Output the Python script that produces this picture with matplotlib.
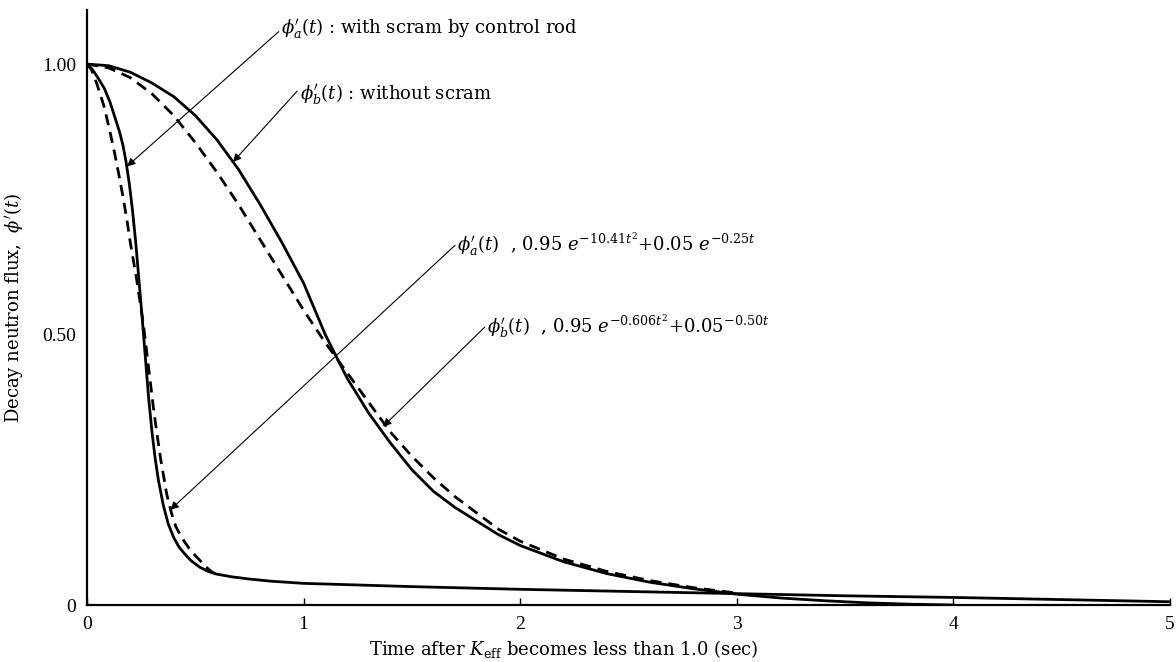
import matplotlib.pyplot as plt

plt.rcParams['font.family'] = 'serif'
plt.rcParams['font.serif'] = ['DejaVu Serif']
plt.rcParams['mathtext.fontset'] = 'dejavuserif'

# phi'_a(t) : with scram by control rod (solid, measured)
t_a = [0, 0.025, 0.05, 0.08, 0.106, 0.13, 0.15, 0.166, 0.18, 0.195, 0.21, 0.225, 0.24,
       0.255, 0.27, 0.284, 0.3, 0.315, 0.33, 0.352, 0.375, 0.4, 0.425, 0.45, 0.48, 0.52,
       0.56, 0.6, 0.67, 0.75, 0.85, 1.0, 1.5, 2.0, 2.5, 3.0, 3.5, 4.0, 4.5, 5.0]
phi_a = [1.0, 0.99, 0.975, 0.955, 0.93, 0.90, 0.875, 0.85, 0.82, 0.78, 0.73, 0.67, 0.60,
         0.53, 0.455, 0.385, 0.32, 0.27, 0.23, 0.185, 0.15, 0.125, 0.107, 0.095, 0.082, 0.07,
         0.062, 0.057, 0.052, 0.048, 0.044, 0.04, 0.034, 0.029, 0.025, 0.021, 0.017, 0.014,
         0.01, 0.006]

# phi'_a(t) approximation 0.95 e^-10.41t^2 + 0.05 e^-0.25t (dashed)
t_a_fit = [0, 0.02, 0.046, 0.08, 0.106, 0.125, 0.145, 0.166, 0.185, 0.2, 0.215, 0.23,
           0.245, 0.26, 0.275, 0.29, 0.305, 0.32, 0.34, 0.368, 0.39, 0.41, 0.43, 0.45,
           0.48, 0.52, 0.55, 0.58, 0.62]
phi_a_fit = [1.0, 0.99, 0.963, 0.92, 0.875, 0.84, 0.80, 0.755, 0.71, 0.67, 0.635, 0.60,
             0.56, 0.52, 0.47, 0.42, 0.37, 0.325, 0.27, 0.205, 0.17, 0.145, 0.13, 0.117,
             0.10, 0.083, 0.07, 0.06, 0.054]

# phi'_b(t) : without scram (solid)
t_b = [0, 0.1, 0.2, 0.3, 0.4, 0.5, 0.6, 0.7, 0.8, 0.9, 1.0, 1.1, 1.2, 1.3, 1.4, 1.5,
       1.6, 1.7, 1.8, 1.9, 2.0, 2.2, 2.4, 2.6, 2.8, 3.0, 3.2, 3.4, 3.6, 3.8, 4.0]
phi_b = [1.0, 0.997, 0.985, 0.965, 0.94, 0.905, 0.86, 0.805, 0.74, 0.67, 0.595, 0.50,
         0.42, 0.355, 0.30, 0.25, 0.21, 0.18, 0.155, 0.13, 0.11, 0.08, 0.058, 0.042,
         0.030, 0.02, 0.013, 0.008, 0.004, 0.0015, 0.0]

# phi'_b(t) approximation 0.95 e^-0.606t^2 + 0.05 e^-0.50t (dashed)
t_b_fit = [0, 0.1, 0.2, 0.3, 0.4, 0.5, 0.6, 0.7, 0.8, 0.9, 1.0, 1.1, 1.2, 1.3, 1.4,
           1.5, 1.6, 1.7, 1.8, 1.9, 2.0, 2.2, 2.4, 2.6, 2.8, 3.0]
phi_b_fit = [1.0, 0.993, 0.975, 0.945, 0.905, 0.855, 0.80, 0.74, 0.675, 0.61, 0.545,
             0.485, 0.43, 0.375, 0.32, 0.275, 0.235, 0.20, 0.17, 0.14, 0.118, 0.085,
             0.062, 0.045, 0.032, 0.022]

x_ticks = [0, 1, 2, 3, 4, 5]
y_ticks = [0, 0.5, 1.0]
y_labels = ['0', '0.50', '1.00']

fig = plt.figure(figsize=(11.76, 6.62), dpi=100)
ax = fig.add_axes([87 / 1176, 57 / 662, 1083 / 1176, 595 / 662])

dash = (0, (4, 2.5))
ax.plot(t_a, phi_a, color='black', lw=2.0)
ax.plot(t_a_fit, phi_a_fit, color='black', lw=2.0, linestyle=dash)
ax.plot(t_b, phi_b, color='black', lw=2.0)
ax.plot(t_b_fit, phi_b_fit, color='black', lw=2.0, linestyle=dash)

ax.set_xlim(0, 5)
ax.set_ylim(0, 1.10)
ax.set_xticks(x_ticks)
ax.set_yticks(y_ticks)
ax.set_yticklabels(y_labels)
ax.tick_params(axis='x', direction='in', length=5, width=1, pad=8, labelsize=14)
ax.tick_params(axis='y', length=0, pad=8, labelsize=14)
for lab in ax.get_xticklabels() + ax.get_yticklabels():
    lab.set_fontfamily('Liberation Serif')
for s in ['top', 'right']:
    ax.spines[s].set_visible(False)
for s in ['left', 'bottom']:
    ax.spines[s].set_linewidth(1.6)

ax.set_xlabel(r'Time after $K_{\rm eff}$ becomes less than 1.0 (sec)', fontsize=13)
ax.xaxis.set_label_coords((564 - 87) / 1083, -0.055)
ax.set_ylabel(r"Decay neutron flux,  $\phi'(t)$", fontsize=13, labelpad=12)

# leader lines start at the left end of each note and point at a curve
arrow = dict(arrowstyle='-|>', lw=0.8, color='black', mutation_scale=12,
             shrinkA=0, shrinkB=0)
notes = [
    (r"$\phi_a'(t)$ : with scram by control rod", (0.896, 1.067), (0.885, 1.06), (0.185, 0.811)),
    (r"$\phi_b'(t)$ : without scram", (0.985, 0.945), (0.97, 0.95), (0.674, 0.819)),
    (r"$\phi_a'(t)$  , 0.95 $e^{-10.41t^2}$+0.05 $e^{-0.25t}$", (1.71, 0.665), (1.699, 0.665), (0.385, 0.176)),
    (r"$\phi_b'(t)$  , 0.95 $e^{-0.606t^2}$+0.05$^{-0.50t}$", (1.845, 0.514), (1.837, 0.514), (1.367, 0.33)),
]
for txt, pos, start, tip in notes:
    ax.text(pos[0], pos[1], txt, fontsize=13, va='center', ha='left')
    ax.annotate('', xy=tip, xytext=start, arrowprops=arrow)

fig.savefig('out.png', dpi=100)
